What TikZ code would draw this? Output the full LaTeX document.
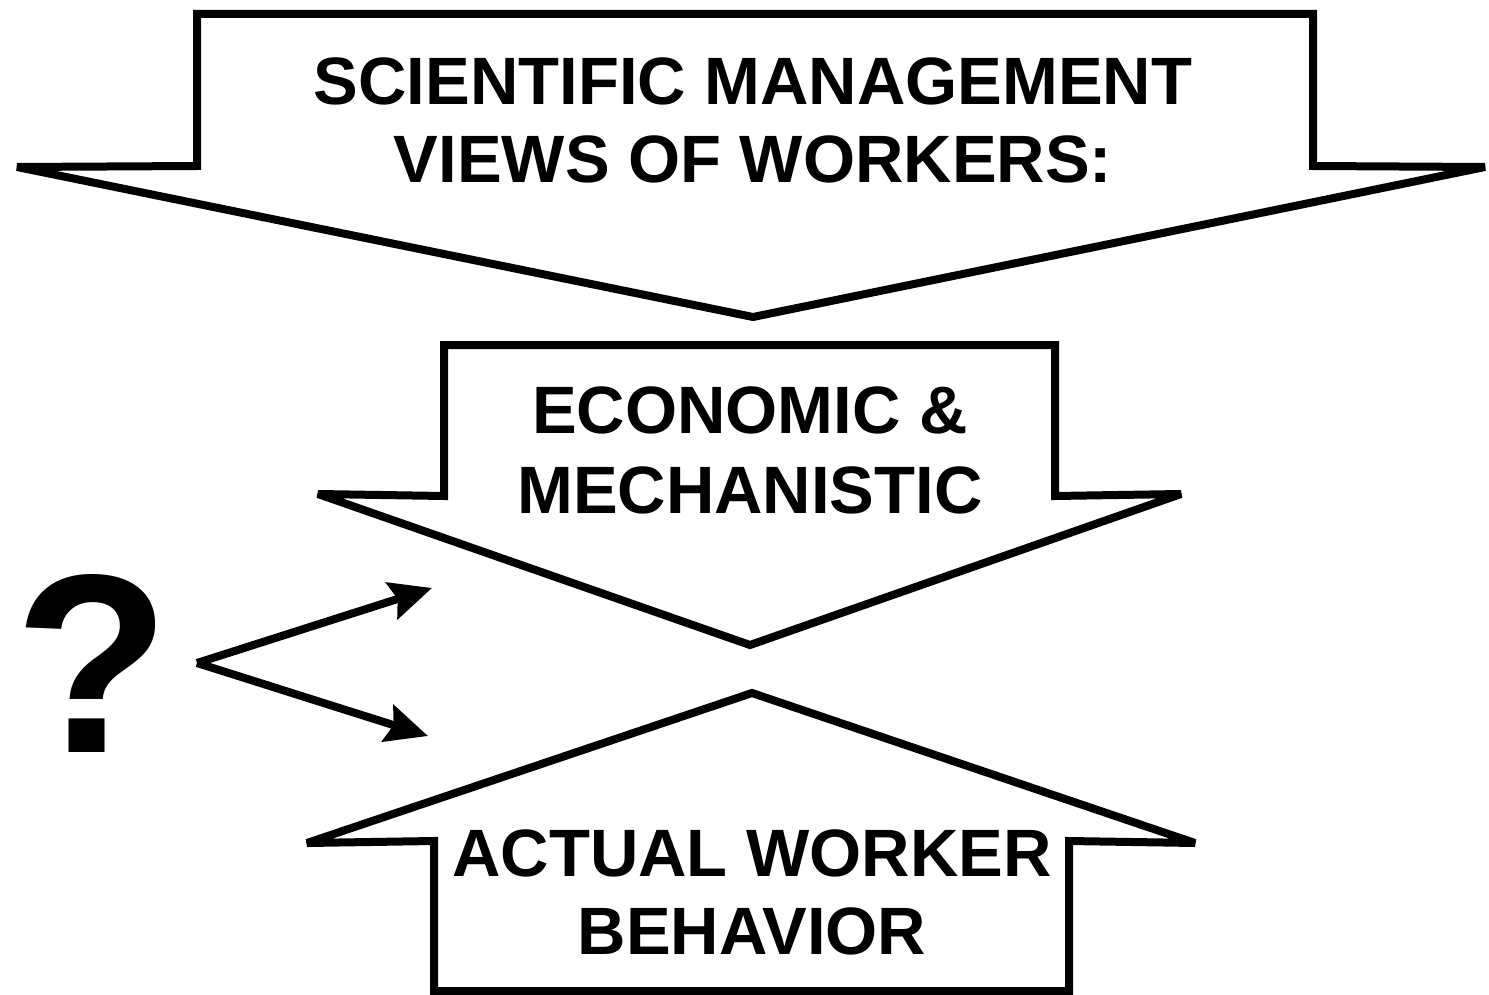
\documentclass[tikz,border=0pt]{standalone}
\usepackage{fontspec}
\setmainfont{Liberation Sans}
\usetikzlibrary{arrows.meta}
\begin{document}
\begin{tikzpicture}[x=1pt,y=-1pt,
  bigarrow/.style={draw=black,line width=8pt,line join=miter,miter limit=4,fill=white},
  lbl/.style={font=\fontsize{67}{80}\selectfont\bfseries,align=center,inner sep=0pt,anchor=base},
  pointer/.style={draw=black,line width=8pt,-{Stealth[length=42pt,width=38pt,inset=6pt]}}]
\useasboundingbox (0,0) rectangle (1489,995);
% top arrow
\draw[bigarrow] (197,14) -- (1313,14) -- (1313,166) -- (1485,167) -- (753,317) -- (17,167) -- (197,166) -- cycle;
\node[lbl] (t1) at (753,105) {SCIENTIFIC MANAGEMENT};
\node[lbl] (t2) at (753,183) {VIEWS OF WORKERS:};
% middle arrow
\draw[bigarrow] (444,345) -- (1055,345) -- (1055,496) -- (1181,494) -- (750,645) -- (318,494) -- (444,496) -- cycle;
\node[lbl] (m1) at (750,433) {ECONOMIC \&};
\node[lbl] (m2) at (750,513) {MECHANISTIC};
% bottom arrow
\draw[bigarrow] (434,991) -- (1069,991) -- (1069,841) -- (1195,843) -- (752,693) -- (307,843) -- (434,841) -- cycle;
\node[lbl] (b1) at (752,876) {ACTUAL WORKER};
\node[lbl] (b2) at (752,954) {BEHAVIOR};
% question mark
\node[font=\fontsize{255}{255}\selectfont\bfseries,inner sep=0pt,anchor=base] (q) at (92,752) {?};
\coordinate (v) at (197,663);
\coordinate (u) at (432,588);
\coordinate (d) at (428,736);
\draw[pointer] (v) -- (u);
\draw[pointer] (v) -- (d);
\end{tikzpicture}
\end{document}
